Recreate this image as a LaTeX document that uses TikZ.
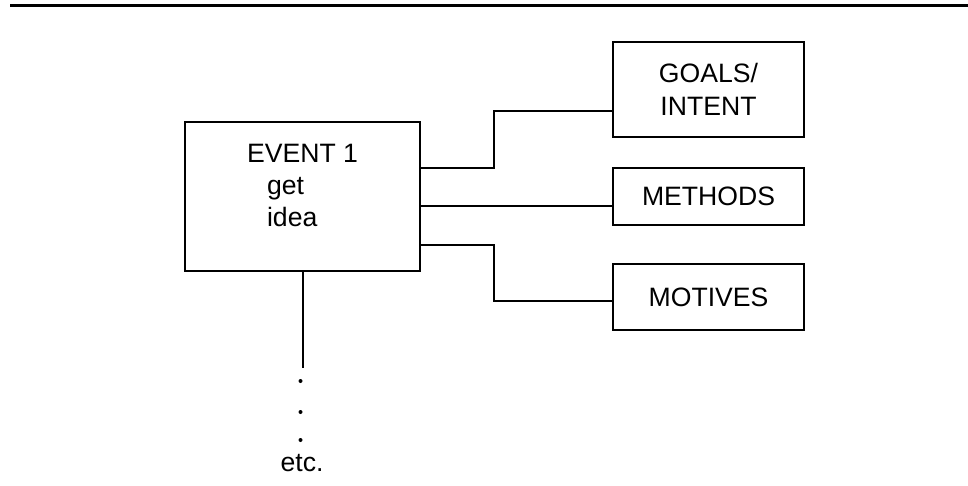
\documentclass[tikz,border=0pt]{standalone}
\usepackage{fontspec}
\setmainfont{Liberation Sans}
\usetikzlibrary{positioning}
\tikzset{
  box/.style={draw, line width=1pt, inner sep=0pt, align=center, minimum width=95.5pt, font=\fontsize{13.3}{16.5}\selectfont},
  evtext/.style={inner sep=0pt, align=left, font=\fontsize{13.3}{16}\selectfont},
  link/.style={line width=1pt},
  rule/.style={line width=1.5pt}
}
\begin{document}
\begin{tikzpicture}[x=0.5pt, y=-0.5pt]
    \useasboundingbox (0,0) rectangle (968,486);
    \draw[rule] (10,6) -- (968,6);
    \node[box, minimum width=117.5pt, minimum height=74.5pt] (event) at (302.5,196.5) {};
    \node[evtext, below=11.5pt of event.north] (eventtext) {EVENT 1\\\hspace*{10pt}get\\\hspace*{10pt}idea};
    \node[box, minimum height=28.5pt, right=95.5pt of event] (methods) {METHODS};
    \node[box, minimum height=47.5pt, above=14.5pt of methods] (goals) {GOALS/\\INTENT};
    \node[box, minimum height=33pt, below=18.5pt of methods] (motives) {MOTIVES};
    \coordinate[below=48pt of event.south] (tail);
    \node[evtext] (etc) at (302,463) {etc.};
    \draw[link] (event.east |- 0,168) -| (494,111) -- (goals.west |- 0,111);
    \draw[link] (event.east |- 0,206) -- (methods.west |- 0,206);
    \draw[link] (event.east |- 0,245) -| (494,301) -- (motives.west |- 0,301);
    \draw[link] (event.south) -- (tail);
    \foreach \d in {13,44,72}
      \fill (tail) ++(-2,\d) circle (1pt);
  \end{tikzpicture}
\end{document}
